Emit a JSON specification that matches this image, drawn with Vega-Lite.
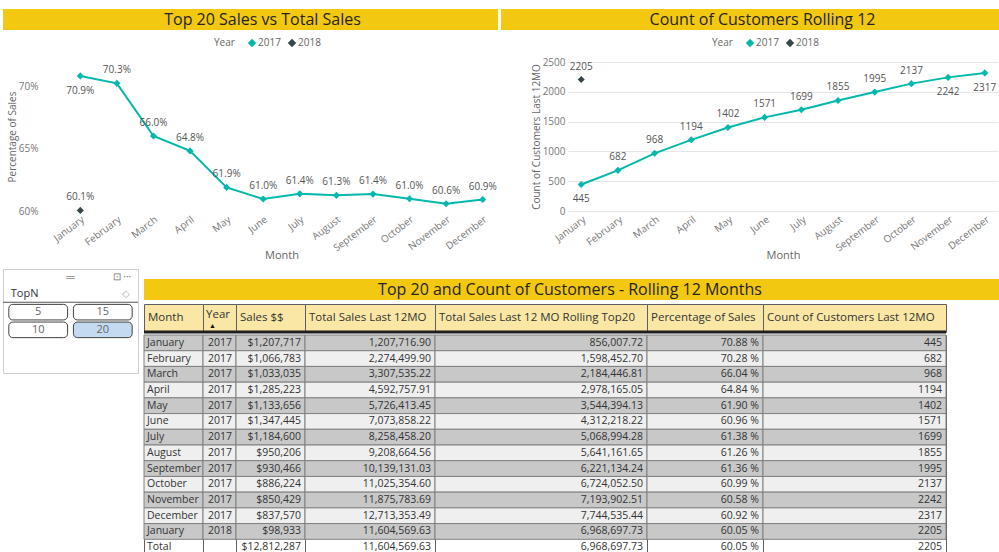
{
  "$schema": "https://vega.github.io/schema/vega-lite/v6.json",
  "padding": {"left": 2, "top": 9, "right": 0, "bottom": 0},
  "background": "#ffffff",
  "config": {
    "view": {"stroke": null},
    "font": "Open Sans",
    "text": {"font": "Open Sans"},
    "axis": {"labelFont": "Open Sans", "titleFont": "Open Sans"},
    "legend": {"labelFont": "Open Sans", "titleFont": "Open Sans"},
    "title": {"font": "Open Sans"}
  },
  "datasets": {
    "table": [
      {"row": 1, "month": "January", "year": 2017, "sales": 1207717, "total12": 1207716.90, "top20": 856007.72, "pct": 0.7088, "cust": 445},
      {"row": 2, "month": "February", "year": 2017, "sales": 1066783, "total12": 2274499.90, "top20": 1598452.70, "pct": 0.7028, "cust": 682},
      {"row": 3, "month": "March", "year": 2017, "sales": 1033035, "total12": 3307535.22, "top20": 2184446.81, "pct": 0.6604, "cust": 968},
      {"row": 4, "month": "April", "year": 2017, "sales": 1285223, "total12": 4592757.91, "top20": 2978165.05, "pct": 0.6484, "cust": 1194},
      {"row": 5, "month": "May", "year": 2017, "sales": 1133656, "total12": 5726413.45, "top20": 3544394.13, "pct": 0.6190, "cust": 1402},
      {"row": 6, "month": "June", "year": 2017, "sales": 1347445, "total12": 7073858.22, "top20": 4312218.22, "pct": 0.6096, "cust": 1571},
      {"row": 7, "month": "July", "year": 2017, "sales": 1184600, "total12": 8258458.20, "top20": 5068994.28, "pct": 0.6138, "cust": 1699},
      {"row": 8, "month": "August", "year": 2017, "sales": 950206, "total12": 9208664.56, "top20": 5641161.65, "pct": 0.6126, "cust": 1855},
      {"row": 9, "month": "September", "year": 2017, "sales": 930466, "total12": 10139131.03, "top20": 6221134.24, "pct": 0.6136, "cust": 1995},
      {"row": 10, "month": "October", "year": 2017, "sales": 886224, "total12": 11025354.60, "top20": 6724052.50, "pct": 0.6099, "cust": 2137},
      {"row": 11, "month": "November", "year": 2017, "sales": 850429, "total12": 11875783.69, "top20": 7193902.51, "pct": 0.6058, "cust": 2242},
      {"row": 12, "month": "December", "year": 2017, "sales": 837570, "total12": 12713353.49, "top20": 7744535.44, "pct": 0.6092, "cust": 2317},
      {"row": 13, "month": "January", "year": 2018, "sales": 98933, "total12": 11604569.63, "top20": 6968697.73, "pct": 0.6005, "cust": 2205},
      {"row": 14, "month": "Total", "year": null, "sales": 12812287, "total12": 11604569.63, "top20": 6968697.73, "pct": 0.6005, "cust": 2205}
    ],
    "slicer": [
      {"item": "5", "col": "1", "row": "1", "selected": "no"},
      {"item": "15", "col": "2", "row": "1", "selected": "no"},
      {"item": "10", "col": "1", "row": "2", "selected": "no"},
      {"item": "20", "col": "2", "row": "2", "selected": "yes"}
    ]
  },
  "spacing": 7,
  "vconcat": [
    {
      "spacing": 8,
      "vconcat": [
        {
          "spacing": 3,
          "hconcat": [
            {
              "width": 495, "height": 21,
              "view": {"fill": "#F2C811", "stroke": null},
              "data": {"values": [{"title": "Top 20 Sales vs Total Sales"}]},
              "mark": {"type": "text", "fontSize": 16, "color": "#252423", "dx": 12},
              "encoding": {"text": {"field": "title"}}
            },
            {
              "width": 499, "height": 21,
              "view": {"fill": "#F2C811", "stroke": null},
              "data": {"values": [{"title": "Count of Customers Rolling 12"}]},
              "mark": {"type": "text", "fontSize": 16, "color": "#252423", "dx": 12},
              "encoding": {"text": {"field": "title"}}
            }
          ]
        },
        {
          "spacing": 10,
          "resolve": {"scale": {"color": "independent"}, "legend": {"color": "independent"}},
          "hconcat": [
            {
              "width": 518, "height": 149,
              "data": {"name": "table"},
              "transform": [{"filter": "datum.row <= 13"}],
              "encoding": {
                "x": {"field": "month", "type": "ordinal",
                  "sort": ["January","February","March","April","May","June","July","August","September","October","November","December"],
                  "scale": {"range": [59, 498], "padding": 0},
                  "axis": {"title": "Month", "labelAngle": -37, "labelFontSize": 10, "labelColor": "#777777", "ticks": false, "domain": false, "labelPadding": 3, "titleFontSize": 11, "titleColor": "#666666", "titleFontWeight": "normal", "titlePadding": -3, "grid": false}},
                "y": {"field": "pct", "type": "quantitative",
                  "scale": {"domain": [0.6, 0.72], "nice": false, "zero": false},
                  "axis": {"title": "Percentage of Sales", "format": ".0%", "values": [0.6, 0.65, 0.7], "offset": -40, "grid": false, "ticks": false, "domain": false, "labelFontSize": 10, "labelColor": "#777777", "labelPadding": 5, "titleFontSize": 10, "titleColor": "#666666", "titleFontWeight": "normal", "titlePadding": 1}},
                "color": {"field": "year", "type": "nominal",
                  "scale": {"domain": [2017, 2018], "range": ["#01B8AA", "#374649"]},
                  "legend": {"orient": "none", "legendX": 211, "legendY": -24, "direction": "horizontal", "title": "Year", "titleOrient": "left", "titleFontSize": 10, "titleFontWeight": "normal", "titleColor": "#666666", "labelFontSize": 10, "labelColor": "#666666", "symbolType": "diamond", "symbolSize": 70, "symbolStrokeWidth": 0, "columnPadding": 6, "labelOffset": 1, "titlePadding": 12}}
              },
              "layer": [
                {"data": {"values": [{}]},
                 "mark": {"type": "rule", "color": "#e6e6e6", "strokeWidth": 1, "xOffset": -19, "x2Offset": 5},
                 "encoding": {"x": {"datum": "January"}, "x2": {"datum": "December"}, "y": {"datum": 0.6}, "color": {"value": "#e6e6e6"}}},
                {"data": {"values": [{}]},
                 "mark": {"type": "rule", "color": "#e6e6e6", "strokeWidth": 1, "xOffset": -19, "x2Offset": 5},
                 "encoding": {"x": {"datum": "January"}, "x2": {"datum": "December"}, "y": {"datum": 0.65}, "color": {"value": "#e6e6e6"}}},
                {"data": {"values": [{}]},
                 "mark": {"type": "rule", "color": "#e6e6e6", "strokeWidth": 1, "xOffset": -19, "x2Offset": 5},
                 "encoding": {"x": {"datum": "January"}, "x2": {"datum": "December"}, "y": {"datum": 0.7}, "color": {"value": "#e6e6e6"}}},
                {"mark": {"type": "line", "strokeWidth": 2}},
                {"mark": {"type": "point", "shape": "diamond", "filled": true, "size": 50, "opacity": 1}},
                {"transform": [{"filter": "datum.row != 1"}],
                 "mark": {"type": "text", "dy": -13, "fontSize": 10},
                 "encoding": {"text": {"field": "pct", "type": "quantitative", "format": ".1%"}, "color": {"value": "#555555"}}},
                {"transform": [{"filter": "datum.row == 1"}],
                 "mark": {"type": "text", "dy": 15, "fontSize": 10},
                 "encoding": {"text": {"field": "pct", "type": "quantitative", "format": ".1%"}, "color": {"value": "#555555"}}}
              ]
            },
            {
              "width": 430, "height": 149,
              "data": {"name": "table"},
              "transform": [{"filter": "datum.row <= 13"}],
              "encoding": {
                "x": {"field": "month", "type": "ordinal",
                  "sort": ["January","February","March","April","May","June","July","August","September","October","November","December"],
                  "scale": {"padding": 0.36},
                  "axis": {"title": "Month", "labelAngle": -37, "labelFontSize": 10, "labelColor": "#777777", "ticks": false, "domain": false, "labelPadding": 3, "titleFontSize": 11, "titleColor": "#666666", "titleFontWeight": "normal", "titlePadding": -3, "grid": false}},
                "y": {"field": "cust", "type": "quantitative",
                  "scale": {"domain": [0, 2500], "nice": false},
                  "axis": {"title": "Count of Customers Last 12MO", "format": "d", "values": [0, 500, 1000, 1500, 2000, 2500], "ticks": false, "domain": false, "labelFontSize": 10, "labelColor": "#777777", "labelPadding": 3, "titleFontSize": 10, "titleColor": "#666666", "titleFontWeight": "normal", "titlePadding": 1, "gridColor": "#e6e6e6"}},
                "color": {"field": "year", "type": "nominal",
                  "scale": {"domain": [2017, 2018], "range": ["#01B8AA", "#374649"]},
                  "legend": {"orient": "none", "legendX": 144, "legendY": -24, "direction": "horizontal", "title": "Year", "titleOrient": "left", "titleFontSize": 10, "titleFontWeight": "normal", "titleColor": "#666666", "labelFontSize": 10, "labelColor": "#666666", "symbolType": "diamond", "symbolSize": 70, "symbolStrokeWidth": 0, "columnPadding": 6, "labelOffset": 1, "titlePadding": 12}}
              },
              "layer": [
                {"mark": {"type": "line", "strokeWidth": 2}},
                {"mark": {"type": "point", "shape": "diamond", "filled": true, "size": 50, "opacity": 1}},
                {"transform": [{"filter": "datum.row != 1 && datum.row != 11 && datum.row != 12"}],
                 "mark": {"type": "text", "dy": -13, "fontSize": 10},
                 "encoding": {"text": {"field": "cust", "type": "quantitative", "format": "d"}, "color": {"value": "#555555"}}},
                {"transform": [{"filter": "datum.row == 1 || datum.row == 11 || datum.row == 12"}],
                 "mark": {"type": "text", "dy": 15, "fontSize": 10},
                 "encoding": {"text": {"field": "cust", "type": "quantitative", "format": "d"}, "color": {"value": "#555555"}}}
              ]
            }
          ]
        }
      ]
    },
    {
      "spacing": 3,
      "hconcat": [
        {
          "width": 135, "height": 104,
          "view": {"stroke": "#cfcfcf"},
          "layer": [
            {"data": {"name": "slicer"},
             "mark": {"type": "rect", "cornerRadius": 4, "stroke": "#404040", "strokeWidth": 1},
             "encoding": {
               "x": {"field": "col", "type": "ordinal", "scale": {"domain": ["1", "2"], "paddingInner": 0.09, "paddingOuter": 0.09}, "axis": null},
               "y": {"field": "row", "type": "ordinal", "scale": {"domain": ["icons", "title", "1", "2", "e1", "e2"], "paddingInner": 0.12, "paddingOuter": 0}, "axis": null},
               "fill": {"condition": {"test": "datum.selected == 'yes'", "value": "#C3DAF0"}, "value": "#ffffff"}}},
            {"data": {"name": "slicer"},
             "mark": {"type": "text", "fontSize": 11, "color": "#666666"},
             "encoding": {
               "x": {"field": "col", "type": "ordinal", "axis": null},
               "y": {"field": "row", "type": "ordinal", "axis": null},
               "text": {"field": "item"}}},
            {"data": {"values": [{"label": "TopN", "col": "1", "row": "title"}]},
             "mark": {"type": "text", "align": "left", "dx": 2, "fontSize": 11, "color": "#333333"},
             "encoding": {
               "x": {"field": "col", "type": "ordinal", "bandPosition": 0, "axis": null},
               "y": {"field": "row", "type": "ordinal", "axis": null},
               "text": {"field": "label"}}},
            {"data": {"values": [{"label": "\u25C7", "col": "2", "row": "title"}]},
             "mark": {"type": "text", "align": "right", "dx": -2, "fontSize": 10, "color": "#b0b0b0"},
             "encoding": {
               "x": {"field": "col", "type": "ordinal", "bandPosition": 1, "axis": null},
               "y": {"field": "row", "type": "ordinal", "axis": null},
               "text": {"field": "label"}}},
            {"data": {"values": [{"label": "\u22A1  \u00B7\u00B7\u00B7", "col": "2", "row": "icons"}]},
             "mark": {"type": "text", "align": "right", "dx": -1, "fontSize": 10, "color": "#777777"},
             "encoding": {
               "x": {"field": "col", "type": "ordinal", "bandPosition": 1, "axis": null},
               "y": {"field": "row", "type": "ordinal", "axis": null},
               "text": {"field": "label"}}},
            {"data": {"values": [{"label": "\u2550", "row": "icons"}]},
             "mark": {"type": "text", "fontSize": 12, "color": "#888888"},
             "encoding": {
               "y": {"field": "row", "type": "ordinal", "axis": null},
               "text": {"field": "label"}}},
            {"data": {"values": [{"row": "title"}]},
             "mark": {"type": "rule", "color": "#555555", "strokeWidth": 1},
             "encoding": {
               "y": {"field": "row", "type": "ordinal", "bandPosition": 1, "axis": null}}}
          ]
        },
        {
          "spacing": 3,
          "vconcat": [
            {
              "width": 856, "height": 7,
              "data": {"values": [{}]},
              "mark": {"type": "text", "fontSize": 1},
              "encoding": {"text": {"value": ""}}
            },
            {
              "width": 856, "height": 21,
              "view": {"fill": "#F2C811", "stroke": null},
              "data": {"values": [{"title": "Top 20 and Count of Customers - Rolling 12 Months"}]},
              "mark": {"type": "text", "fontSize": 16, "color": "#252423", "dx": -2},
              "encoding": {"text": {"field": "title"}}
            },
            {
              "spacing": 0,
              "vconcat": [
                {
                  "spacing": 0,
                  "bounds": "flush",
                  "hconcat": [
                    {"width": 59, "height": 28, "view": {"fill": "#FAE7A5", "stroke": "#5f5f5f"},
                     "data": {"values": [{"header": "Month"}]},
                     "layer": [
                       {"mark": {"type": "text", "align": "left", "dx": 4, "fontSize": 11.5, "color": "#333333"},
                        "encoding": {"x": {"datum": 0, "type": "quantitative", "scale": {"domain": [0, 1]}, "axis": null}, "text": {"field": "header"}}},
                       {"mark": {"type": "rule", "color": "#1f1f1f", "strokeWidth": 3},
                        "encoding": {"y": {"datum": 0, "type": "quantitative", "scale": {"domain": [0, 1]}, "axis": null}}}
                     ]},
                    {"width": 33, "height": 28, "view": {"fill": "#FAE7A5", "stroke": "#5f5f5f"},
                     "data": {"values": [{"header": "Year", "sort": "\u25B2"}]},
                     "layer": [
                       {"mark": {"type": "text", "align": "left", "dx": 3, "dy": -3, "fontSize": 11.5, "color": "#333333"},
                        "encoding": {"x": {"datum": 0, "type": "quantitative", "scale": {"domain": [0, 1]}, "axis": null}, "text": {"field": "header"}}},
                       {"mark": {"type": "text", "align": "left", "dx": 6, "dy": 8, "fontSize": 7, "color": "#111111"},
                        "encoding": {"x": {"datum": 0, "type": "quantitative", "scale": {"domain": [0, 1]}, "axis": null}, "text": {"field": "sort"}}},
                       {"mark": {"type": "rule", "color": "#1f1f1f", "strokeWidth": 3},
                        "encoding": {"y": {"datum": 0, "type": "quantitative", "scale": {"domain": [0, 1]}, "axis": null}}}
                     ]},
                    {"width": 69, "height": 28, "view": {"fill": "#FAE7A5", "stroke": "#5f5f5f"},
                     "data": {"values": [{"header": "Sales $$"}]},
                     "layer": [
                       {"mark": {"type": "text", "align": "left", "dx": 4, "fontSize": 11.5, "color": "#333333"},
                        "encoding": {"x": {"datum": 0, "type": "quantitative", "scale": {"domain": [0, 1]}, "axis": null}, "text": {"field": "header"}}},
                       {"mark": {"type": "rule", "color": "#1f1f1f", "strokeWidth": 3},
                        "encoding": {"y": {"datum": 0, "type": "quantitative", "scale": {"domain": [0, 1]}, "axis": null}}}
                     ]},
                    {"width": 130, "height": 28, "view": {"fill": "#FAE7A5", "stroke": "#5f5f5f"},
                     "data": {"values": [{"header": "Total Sales Last 12MO"}]},
                     "layer": [
                       {"mark": {"type": "text", "align": "left", "dx": 4, "fontSize": 11.5, "color": "#333333"},
                        "encoding": {"x": {"datum": 0, "type": "quantitative", "scale": {"domain": [0, 1]}, "axis": null}, "text": {"field": "header"}}},
                       {"mark": {"type": "rule", "color": "#1f1f1f", "strokeWidth": 3},
                        "encoding": {"y": {"datum": 0, "type": "quantitative", "scale": {"domain": [0, 1]}, "axis": null}}}
                     ]},
                    {"width": 212, "height": 28, "view": {"fill": "#FAE7A5", "stroke": "#5f5f5f"},
                     "data": {"values": [{"header": "Total Sales Last 12 MO Rolling Top20"}]},
                     "layer": [
                       {"mark": {"type": "text", "align": "left", "dx": 4, "fontSize": 11.5, "color": "#333333"},
                        "encoding": {"x": {"datum": 0, "type": "quantitative", "scale": {"domain": [0, 1]}, "axis": null}, "text": {"field": "header"}}},
                       {"mark": {"type": "rule", "color": "#1f1f1f", "strokeWidth": 3},
                        "encoding": {"y": {"datum": 0, "type": "quantitative", "scale": {"domain": [0, 1]}, "axis": null}}}
                     ]},
                    {"width": 116, "height": 28, "view": {"fill": "#FAE7A5", "stroke": "#5f5f5f"},
                     "data": {"values": [{"header": "Percentage of Sales"}]},
                     "layer": [
                       {"mark": {"type": "text", "align": "left", "dx": 4, "fontSize": 11.5, "color": "#333333"},
                        "encoding": {"x": {"datum": 0, "type": "quantitative", "scale": {"domain": [0, 1]}, "axis": null}, "text": {"field": "header"}}},
                       {"mark": {"type": "rule", "color": "#1f1f1f", "strokeWidth": 3},
                        "encoding": {"y": {"datum": 0, "type": "quantitative", "scale": {"domain": [0, 1]}, "axis": null}}}
                     ]},
                    {"width": 183, "height": 28, "view": {"fill": "#FAE7A5", "stroke": "#5f5f5f"},
                     "data": {"values": [{"header": "Count of Customers Last 12MO"}]},
                     "layer": [
                       {"mark": {"type": "text", "align": "left", "dx": 4, "fontSize": 11.5, "color": "#333333"},
                        "encoding": {"x": {"datum": 0, "type": "quantitative", "scale": {"domain": [0, 1]}, "axis": null}, "text": {"field": "header"}}},
                       {"mark": {"type": "rule", "color": "#1f1f1f", "strokeWidth": 3},
                        "encoding": {"y": {"datum": 0, "type": "quantitative", "scale": {"domain": [0, 1]}, "axis": null}}}
                     ]}
                  ]
                },
                {
                  "spacing": 0,
                  "bounds": "flush",
                  "hconcat": [
                    {"width": 59, "height": 220, "view": {"stroke": "#5f5f5f"},
                     "data": {"name": "table"},
                     "layer": [
                       {"transform": [{"filter": "datum.row <= 13"}],
                        "mark": {"type": "rect", "stroke": "#808080", "strokeWidth": 1},
                        "encoding": {"y": {"field": "row", "type": "ordinal", "scale": {"domain": [1,2,3,4,5,6,7,8,9,10,11,12,13,14], "paddingInner": 0, "paddingOuter": 0}, "axis": null},
                          "fill": {"condition": {"test": "datum.row % 2 == 1", "value": "#c8c8c8"}, "value": "#efefef"}}},
                       {"mark": {"type": "text", "align": "left", "dx": 3, "fontSize": 10.5, "color": "#333333"},
                        "encoding": {"y": {"field": "row", "type": "ordinal", "axis": null},
                          "x": {"datum": 0, "type": "quantitative", "scale": {"domain": [0, 1]}, "axis": null},
                          "text": {"field": "month"},
                          "fontWeight": {"condition": {"test": "datum.row == 14", "value": "bold"}, "value": "normal"}}}
                     ]},
                    {"width": 33, "height": 220, "view": {"stroke": "#5f5f5f"},
                     "data": {"name": "table"},
                     "layer": [
                       {"transform": [{"filter": "datum.row <= 13"}],
                        "mark": {"type": "rect", "stroke": "#808080", "strokeWidth": 1},
                        "encoding": {"y": {"field": "row", "type": "ordinal", "scale": {"domain": [1,2,3,4,5,6,7,8,9,10,11,12,13,14], "paddingInner": 0, "paddingOuter": 0}, "axis": null},
                          "fill": {"condition": {"test": "datum.row % 2 == 1", "value": "#c8c8c8"}, "value": "#efefef"}}},
                       {"transform": [{"filter": "datum.year != null"}],
                        "mark": {"type": "text", "align": "right", "dx": -4, "fontSize": 10.5, "color": "#333333"},
                        "encoding": {"y": {"field": "row", "type": "ordinal", "axis": null},
                          "x": {"datum": 1, "type": "quantitative", "scale": {"domain": [0, 1]}, "axis": null},
                          "text": {"field": "year", "type": "quantitative", "format": "d"}}}
                     ]},
                    {"width": 69, "height": 220, "view": {"stroke": "#5f5f5f"},
                     "data": {"name": "table"},
                     "layer": [
                       {"transform": [{"filter": "datum.row <= 13"}],
                        "mark": {"type": "rect", "stroke": "#808080", "strokeWidth": 1},
                        "encoding": {"y": {"field": "row", "type": "ordinal", "scale": {"domain": [1,2,3,4,5,6,7,8,9,10,11,12,13,14], "paddingInner": 0, "paddingOuter": 0}, "axis": null},
                          "fill": {"condition": {"test": "datum.row % 2 == 1", "value": "#c8c8c8"}, "value": "#efefef"}}},
                       {"mark": {"type": "text", "align": "right", "dx": -4, "fontSize": 10.5, "color": "#333333"},
                        "encoding": {"y": {"field": "row", "type": "ordinal", "axis": null},
                          "x": {"datum": 1, "type": "quantitative", "scale": {"domain": [0, 1]}, "axis": null},
                          "text": {"field": "sales", "type": "quantitative", "format": "$,.0f"},
                          "fontWeight": {"condition": {"test": "datum.row == 14", "value": "bold"}, "value": "normal"}}}
                     ]},
                    {"width": 130, "height": 220, "view": {"stroke": "#5f5f5f"},
                     "data": {"name": "table"},
                     "layer": [
                       {"transform": [{"filter": "datum.row <= 13"}],
                        "mark": {"type": "rect", "stroke": "#808080", "strokeWidth": 1},
                        "encoding": {"y": {"field": "row", "type": "ordinal", "scale": {"domain": [1,2,3,4,5,6,7,8,9,10,11,12,13,14], "paddingInner": 0, "paddingOuter": 0}, "axis": null},
                          "fill": {"condition": {"test": "datum.row % 2 == 1", "value": "#c8c8c8"}, "value": "#efefef"}}},
                       {"mark": {"type": "text", "align": "right", "dx": -4, "fontSize": 10.5, "color": "#333333"},
                        "encoding": {"y": {"field": "row", "type": "ordinal", "axis": null},
                          "x": {"datum": 1, "type": "quantitative", "scale": {"domain": [0, 1]}, "axis": null},
                          "text": {"field": "total12", "type": "quantitative", "format": ",.2f"},
                          "fontWeight": {"condition": {"test": "datum.row == 14", "value": "bold"}, "value": "normal"}}}
                     ]},
                    {"width": 212, "height": 220, "view": {"stroke": "#5f5f5f"},
                     "data": {"name": "table"},
                     "layer": [
                       {"transform": [{"filter": "datum.row <= 13"}],
                        "mark": {"type": "rect", "stroke": "#808080", "strokeWidth": 1},
                        "encoding": {"y": {"field": "row", "type": "ordinal", "scale": {"domain": [1,2,3,4,5,6,7,8,9,10,11,12,13,14], "paddingInner": 0, "paddingOuter": 0}, "axis": null},
                          "fill": {"condition": {"test": "datum.row % 2 == 1", "value": "#c8c8c8"}, "value": "#efefef"}}},
                       {"mark": {"type": "text", "align": "right", "dx": -4, "fontSize": 10.5, "color": "#333333"},
                        "encoding": {"y": {"field": "row", "type": "ordinal", "axis": null},
                          "x": {"datum": 1, "type": "quantitative", "scale": {"domain": [0, 1]}, "axis": null},
                          "text": {"field": "top20", "type": "quantitative", "format": ",.2f"},
                          "fontWeight": {"condition": {"test": "datum.row == 14", "value": "bold"}, "value": "normal"}}}
                     ]},
                    {"width": 116, "height": 220, "view": {"stroke": "#5f5f5f"},
                     "data": {"name": "table"},
                     "layer": [
                       {"transform": [{"filter": "datum.row <= 13"}],
                        "mark": {"type": "rect", "stroke": "#808080", "strokeWidth": 1},
                        "encoding": {"y": {"field": "row", "type": "ordinal", "scale": {"domain": [1,2,3,4,5,6,7,8,9,10,11,12,13,14], "paddingInner": 0, "paddingOuter": 0}, "axis": null},
                          "fill": {"condition": {"test": "datum.row % 2 == 1", "value": "#c8c8c8"}, "value": "#efefef"}}},
                       {"mark": {"type": "text", "align": "right", "dx": -4, "fontSize": 10.5, "color": "#333333", "text": {"expr": "format(datum.pct * 100, '.2f') + ' %'"}},
                        "encoding": {"y": {"field": "row", "type": "ordinal", "axis": null},
                          "x": {"datum": 1, "type": "quantitative", "scale": {"domain": [0, 1]}, "axis": null},
                          "fontWeight": {"condition": {"test": "datum.row == 14", "value": "bold"}, "value": "normal"}}}
                     ]},
                    {"width": 183, "height": 220, "view": {"stroke": "#5f5f5f"},
                     "data": {"name": "table"},
                     "layer": [
                       {"transform": [{"filter": "datum.row <= 13"}],
                        "mark": {"type": "rect", "stroke": "#808080", "strokeWidth": 1},
                        "encoding": {"y": {"field": "row", "type": "ordinal", "scale": {"domain": [1,2,3,4,5,6,7,8,9,10,11,12,13,14], "paddingInner": 0, "paddingOuter": 0}, "axis": null},
                          "fill": {"condition": {"test": "datum.row % 2 == 1", "value": "#c8c8c8"}, "value": "#efefef"}}},
                       {"mark": {"type": "text", "align": "right", "dx": -4, "fontSize": 10.5, "color": "#333333"},
                        "encoding": {"y": {"field": "row", "type": "ordinal", "axis": null},
                          "x": {"datum": 1, "type": "quantitative", "scale": {"domain": [0, 1]}, "axis": null},
                          "text": {"field": "cust", "type": "quantitative", "format": "d"},
                          "fontWeight": {"condition": {"test": "datum.row == 14", "value": "bold"}, "value": "normal"}}}
                     ]}
                  ]
                }
              ]
            }
          ]
        }
      ]
    }
  ]
}
